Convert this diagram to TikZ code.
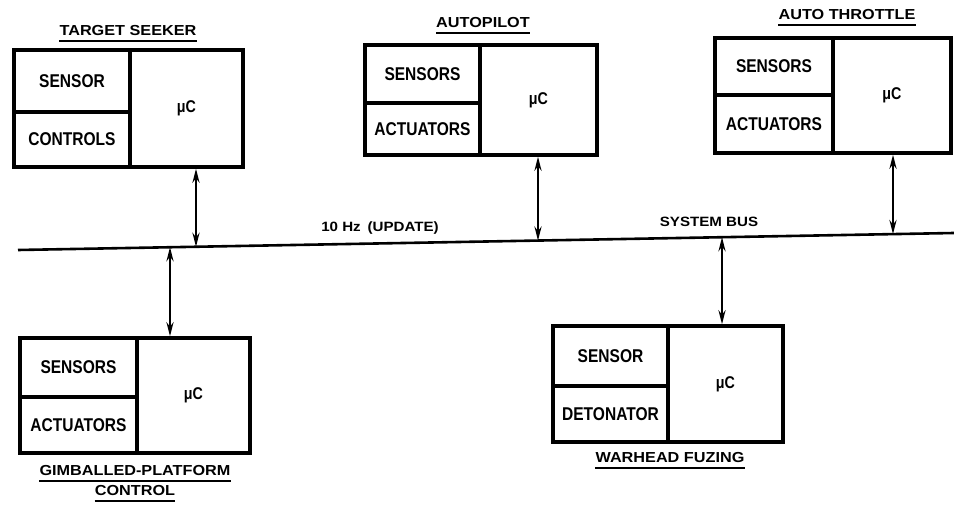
\documentclass[tikz,border=0pt]{standalone}
\usepackage{fontspec}
\setmainfont{Liberation Sans}
\newfontfamily\cellf{Liberation Sans}[FakeStretch=0.84]
\newfontfamily\titf{Liberation Sans}[FakeStretch=1.12]
\usetikzlibrary{arrows.meta}
\begin{document}
\begin{tikzpicture}[x=1pt,y=-1pt,
  cell/.style={draw, line width=3.4pt, inner sep=0pt, font=\cellf\bfseries\fontsize{18.5}{18.5}\selectfont},
  mc/.style={cell, font=\cellf\bfseries\fontsize{17}{17}\selectfont},
  ttl/.style={inner sep=0pt, text height=10.5pt, text depth=0pt, font=\titf\bfseries\fontsize{14.5}{14.5}\selectfont},
  buslbl/.style={inner sep=0pt, font=\titf\bfseries\fontsize{13.5}{13.5}\selectfont},
  uline/.style={line width=2pt},
  conn/.style={line width=2.4pt, {Stealth[length=14pt,width=7pt]}-{Stealth[length=14pt,width=7pt]}},
  bus/.style={line width=2.6pt}]
\useasboundingbox (0,0) rectangle (954,505);

% ---- system bus
\coordinate (busL) at (18,250);
\coordinate (busR) at (954,233);
\draw[bus] (busL) -- (busR);
\node[buslbl] (upd) at (380,228) {10 Hz\enspace(UPDATE)};
\node[buslbl] (sysbus) at (709,222) {SYSTEM BUS};

% ---- target seeker
\node[cell, minimum width=116, minimum height=62] (ts1) at (72,81) {SENSOR};
\node[cell, minimum width=116, minimum height=55] (ts2) at (72,139.5) {CONTROLS};
\node[mc, minimum width=113, minimum height=117] (tsc) at (186.5,108.5) {μC};
\node[ttl] (tst) at (128,30) {TARGET SEEKER};
\draw[uline] ([yshift=-6pt]tst.south west) -- ([yshift=-6pt]tst.south east);

% ---- autopilot
\node[cell, minimum width=115, minimum height=58] (ap1) at (422.5,74) {SENSORS};
\node[cell, minimum width=115, minimum height=52] (ap2) at (422.5,129) {ACTUATORS};
\node[mc, minimum width=117, minimum height=110] (apc) at (538.5,100) {μC};
\node[ttl] (apt) at (483,22) {AUTOPILOT};
\draw[uline] ([yshift=-6pt]apt.south west) -- ([yshift=-6pt]apt.south east);

% ---- auto throttle
\node[cell, minimum width=118, minimum height=57] (at1) at (774,66.5) {SENSORS};
\node[cell, minimum width=118, minimum height=58] (at2) at (774,124) {ACTUATORS};
\node[mc, minimum width=118, minimum height=115] (atc) at (892,95.5) {μC};
\node[ttl] (att) at (847,14) {AUTO THROTTLE};
\draw[uline] ([yshift=-6pt]att.south west) -- ([yshift=-6pt]att.south east);

% ---- gimballed-platform control
\node[cell, minimum width=117, minimum height=59] (gp1) at (78.5,367.5) {SENSORS};
\node[cell, minimum width=117, minimum height=56] (gp2) at (78.5,425) {ACTUATORS};
\node[mc, minimum width=113, minimum height=115] (gpc) at (193.5,395.5) {μC};
\node[ttl] (gpt1) at (135,470) {GIMBALLED-PLATFORM};
\draw[uline] ([yshift=-6pt]gpt1.south west) -- ([yshift=-6pt]gpt1.south east);
\node[ttl] (gpt2) at (135,490) {CONTROL};
\draw[uline] ([yshift=-6pt]gpt2.south west) -- ([yshift=-6pt]gpt2.south east);

% ---- warhead fuzing
\node[cell, minimum width=115, minimum height=60] (wf1) at (610.5,356) {SENSOR};
\node[cell, minimum width=115, minimum height=56] (wf2) at (610.5,414) {DETONATOR};
\node[mc, minimum width=115, minimum height=116] (wfc) at (725.5,384) {μC};
\node[ttl] (wft) at (670,457) {WARHEAD FUZING};
\draw[uline] ([yshift=-6pt]wft.south west) -- ([yshift=-6pt]wft.south east);

% ---- bus taps
\coordinate (bts) at (196,246.8);
\coordinate (bap) at (538,240.6);
\coordinate (bat) at (893,234.1);
\coordinate (bgp) at (170,247.2);
\coordinate (bwf) at (722,237.2);

\draw[conn] (bts |- tsc.south) -- (bts);
\draw[conn] (bap |- apc.south) -- (bap);
\draw[conn] (bat |- atc.south) -- (bat);
\draw[conn] (bgp) -- (bgp |- gpc.north);
\draw[conn] (bwf) -- (bwf |- wfc.north);
\end{tikzpicture}
\end{document}
